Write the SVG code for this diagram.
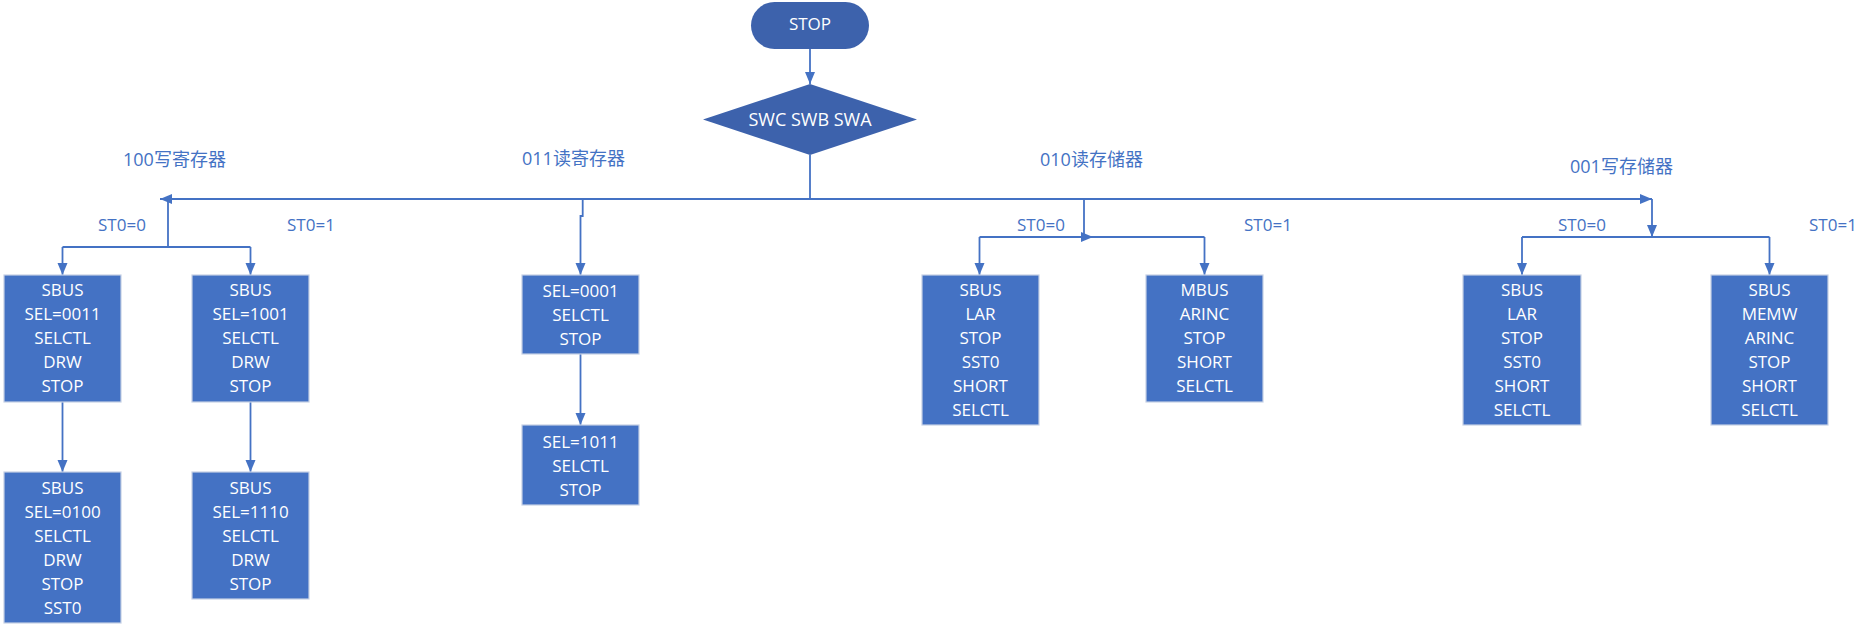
<svg xmlns="http://www.w3.org/2000/svg" width="1871" height="630" viewBox="0 0 1871 630">
<style>
.box{fill:#4472C4;stroke:#C5D0E4;stroke-width:1.2}
.term{fill:#3D62AC}
.bt{font-family:"Open Sans","Noto Sans",sans-serif;font-size:17px;fill:#FFFFFF;text-anchor:middle}
.lbl{font-family:"Open Sans","Noto Sans CJK SC",sans-serif;font-size:18px;fill:#4472C4}
.st{font-family:"Open Sans","Noto Sans",sans-serif;font-size:17px;fill:#4472C4}
.ln{fill:none;stroke:#4472C4;stroke-width:1.8}
</style>
<defs>
<marker id="ah" markerUnits="userSpaceOnUse" markerWidth="12" markerHeight="12" viewBox="0 0 12 10" refX="12" refY="5" orient="auto">
<path d="M0,0 L12,5 L0,10 Z" fill="#4472C4"/>
</marker>
</defs>
<rect width="1871" height="630" fill="#FFFFFF"/>
<g id="connectors">
<path class="ln" d="M810,49 V84" marker-end="url(#ah)"/>
<path class="ln" d="M810,155 V199"/>
<path class="ln" d="M810,199 H160" marker-end="url(#ah)"/>
<path class="ln" d="M810,199 H1652" marker-end="url(#ah)"/>
<path class="ln" d="M168,199 V247"/>
<path class="ln" d="M62.5,247 H250.5"/>
<path class="ln" d="M62.5,247 V275" marker-end="url(#ah)"/>
<path class="ln" d="M250.5,247 V275" marker-end="url(#ah)"/>
<path class="ln" d="M62.5,402 V472" marker-end="url(#ah)"/>
<path class="ln" d="M250.5,402 V472" marker-end="url(#ah)"/>
<path class="ln" d="M582.7,199 V216 H580.5 V275" marker-end="url(#ah)"/>
<path class="ln" d="M580.5,354 V425" marker-end="url(#ah)"/>
<path class="ln" d="M1084,199 V237"/>
<path class="ln" d="M979.5,237 H1204.5"/>
<path d="M1081,232 L1093,237 L1081,242 Z" fill="#4472C4"/>
<path class="ln" d="M979.5,237 V275" marker-end="url(#ah)"/>
<path class="ln" d="M1204.5,237 V275" marker-end="url(#ah)"/>
<path class="ln" d="M1652,199 V237" marker-end="url(#ah)"/>
<path class="ln" d="M1522,237 H1769.5"/>
<path class="ln" d="M1522,237 V275" marker-end="url(#ah)"/>
<path class="ln" d="M1769.5,237 V275" marker-end="url(#ah)"/>
</g>
<g id="labels">
<text class="lbl" x="123" y="166">100写寄存器</text>
<text class="lbl" x="522" y="165">011读寄存器</text>
<text class="lbl" x="1040" y="166">010读存储器</text>
<text class="lbl" x="1570" y="173">001写存储器</text>
<text class="st" x="98" y="231">ST0=0</text>
<text class="st" x="287" y="231">ST0=1</text>
<text class="st" x="1017" y="231">ST0=0</text>
<text class="st" x="1244" y="231">ST0=1</text>
<text class="st" x="1558" y="231">ST0=0</text>
<text class="st" x="1809" y="231">ST0=1</text>
</g>
<g id="start">
<rect class="term" x="751" y="2" width="118" height="47" rx="23.5"/>
<text class="bt" x="810" y="30">STOP</text>
</g>
<g id="decision">
<polygon class="term" points="810,84 917,119.5 810,155 703,119.5"/>
<text class="bt" x="810" y="126" style="font-size:18px">SWC SWB SWA</text>
</g>
<g id="n100a">
<rect class="box" x="4" y="275" width="117" height="127"/>
<text class="bt" x="62.5" y="296"><tspan x="62.5">SBUS</tspan><tspan x="62.5" dy="24">SEL=0011</tspan><tspan x="62.5" dy="24">SELCTL</tspan><tspan x="62.5" dy="24">DRW</tspan><tspan x="62.5" dy="24">STOP</tspan></text>
</g>
<g id="n100b">
<rect class="box" x="192" y="275" width="117" height="127"/>
<text class="bt" x="250.5" y="296"><tspan x="250.5">SBUS</tspan><tspan x="250.5" dy="24">SEL=1001</tspan><tspan x="250.5" dy="24">SELCTL</tspan><tspan x="250.5" dy="24">DRW</tspan><tspan x="250.5" dy="24">STOP</tspan></text>
</g>
<g id="n100c">
<rect class="box" x="4" y="472" width="117" height="151"/>
<text class="bt" x="62.5" y="494"><tspan x="62.5">SBUS</tspan><tspan x="62.5" dy="24">SEL=0100</tspan><tspan x="62.5" dy="24">SELCTL</tspan><tspan x="62.5" dy="24">DRW</tspan><tspan x="62.5" dy="24">STOP</tspan><tspan x="62.5" dy="24">SST0</tspan></text>
</g>
<g id="n100d">
<rect class="box" x="192" y="472" width="117" height="127"/>
<text class="bt" x="250.5" y="494"><tspan x="250.5">SBUS</tspan><tspan x="250.5" dy="24">SEL=1110</tspan><tspan x="250.5" dy="24">SELCTL</tspan><tspan x="250.5" dy="24">DRW</tspan><tspan x="250.5" dy="24">STOP</tspan></text>
</g>
<g id="n011a">
<rect class="box" x="522" y="275" width="117" height="79"/>
<text class="bt" x="580.5" y="297"><tspan x="580.5">SEL=0001</tspan><tspan x="580.5" dy="24">SELCTL</tspan><tspan x="580.5" dy="24">STOP</tspan></text>
</g>
<g id="n011b">
<rect class="box" x="522" y="425" width="117" height="80"/>
<text class="bt" x="580.5" y="448"><tspan x="580.5">SEL=1011</tspan><tspan x="580.5" dy="24">SELCTL</tspan><tspan x="580.5" dy="24">STOP</tspan></text>
</g>
<g id="n010a">
<rect class="box" x="922" y="275" width="117" height="150"/>
<text class="bt" x="980.5" y="296"><tspan x="980.5">SBUS</tspan><tspan x="980.5" dy="24">LAR</tspan><tspan x="980.5" dy="24">STOP</tspan><tspan x="980.5" dy="24">SST0</tspan><tspan x="980.5" dy="24">SHORT</tspan><tspan x="980.5" dy="24">SELCTL</tspan></text>
</g>
<g id="n010b">
<rect class="box" x="1146" y="275" width="117" height="127"/>
<text class="bt" x="1204.5" y="296"><tspan x="1204.5">MBUS</tspan><tspan x="1204.5" dy="24">ARINC</tspan><tspan x="1204.5" dy="24">STOP</tspan><tspan x="1204.5" dy="24">SHORT</tspan><tspan x="1204.5" dy="24">SELCTL</tspan></text>
</g>
<g id="n001a">
<rect class="box" x="1463" y="275" width="118" height="150"/>
<text class="bt" x="1522" y="296"><tspan x="1522">SBUS</tspan><tspan x="1522" dy="24">LAR</tspan><tspan x="1522" dy="24">STOP</tspan><tspan x="1522" dy="24">SST0</tspan><tspan x="1522" dy="24">SHORT</tspan><tspan x="1522" dy="24">SELCTL</tspan></text>
</g>
<g id="n001b">
<rect class="box" x="1711" y="275" width="117" height="150"/>
<text class="bt" x="1769.5" y="296"><tspan x="1769.5">SBUS</tspan><tspan x="1769.5" dy="24">MEMW</tspan><tspan x="1769.5" dy="24">ARINC</tspan><tspan x="1769.5" dy="24">STOP</tspan><tspan x="1769.5" dy="24">SHORT</tspan><tspan x="1769.5" dy="24">SELCTL</tspan></text>
</g>
</svg>
